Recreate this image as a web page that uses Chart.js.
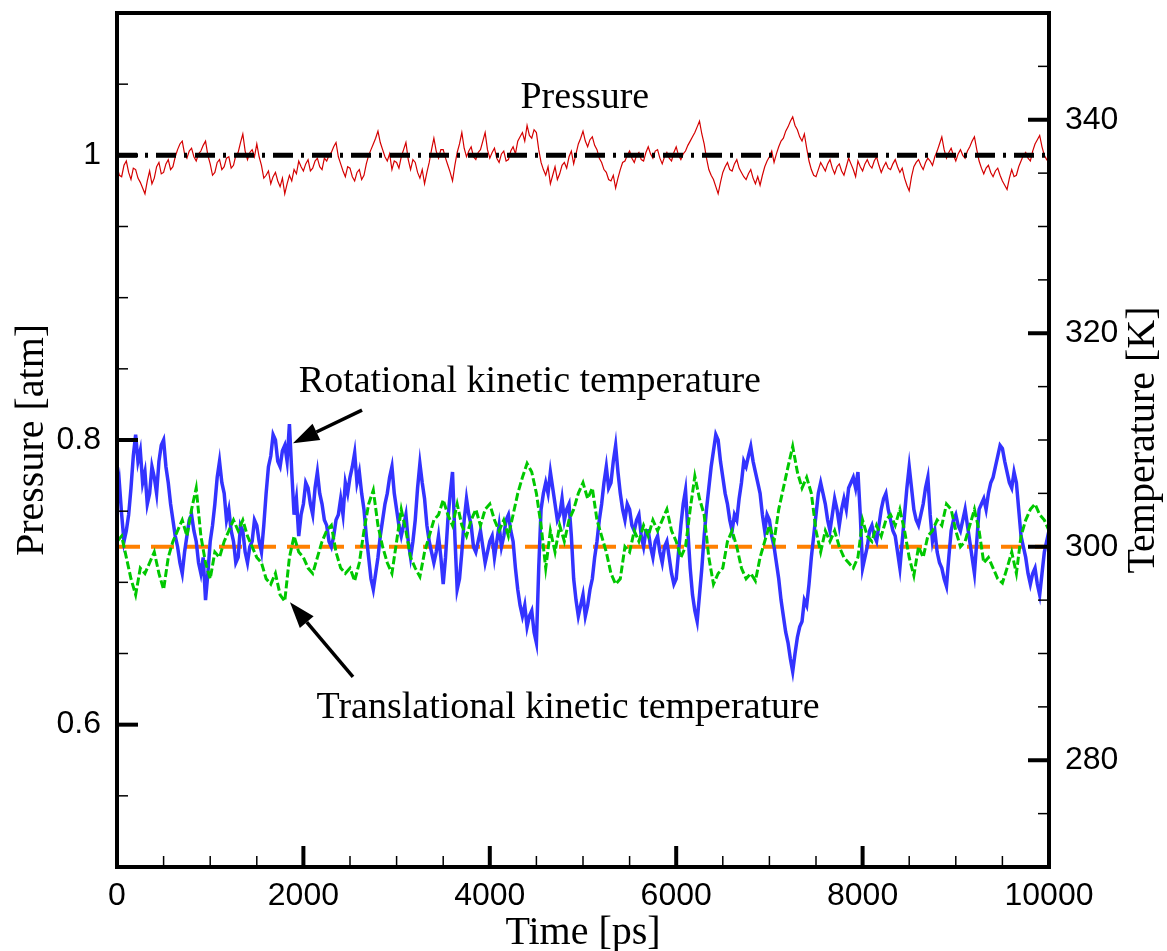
<!DOCTYPE html>
<html>
<head>
<meta charset="utf-8">
<title>Pressure and temperature vs time</title>
<script src="https://cdn.jsdelivr.net/npm/chart.js@4.4.0/dist/chart.umd.min.js"></script>
<style>
  html, body { margin: 0; padding: 0; background: #fff; }
  canvas { display: block; }
</style>
</head>
<body>
<canvas id="chart" width="1167" height="951"></canvas>
<script>
// sampling steps of the read-off series [ps]
const FINE_STEP = 25;
const COARSE_STEP = 50;

// Pressure [atm], read every 25 ps from 0 to 10000
const pressure = [
  0.992, 0.986, 0.985, 0.993, 0.996, 0.988, 0.983, 0.991, 0.990, 0.984, 0.981, 0.977, 0.973, 0.982, 0.989, 0.980, 0.984, 0.992, 0.995, 0.987,
  0.988, 0.994, 0.997, 0.990, 0.992, 0.999, 1.004, 1.008, 1.010, 1.001, 0.998, 1.003, 1.005, 0.999, 0.996, 1.001, 1.003, 1.007, 1.010, 1.000,
  0.994, 0.986, 0.988, 0.995, 0.997, 0.990, 0.992, 0.998, 0.999, 0.991, 0.993, 1.000, 1.002, 1.009, 1.015, 1.003, 0.997, 1.002, 1.004, 0.999,
  1.008, 0.999, 0.993, 0.984, 0.986, 0.989, 0.980, 0.985, 0.988, 0.982, 0.978, 0.984, 0.973, 0.980, 0.986, 0.982, 0.990, 0.987, 0.996, 0.992,
  0.989, 0.994, 0.997, 0.989, 0.991, 0.996, 0.998, 0.992, 0.990, 0.998, 0.996, 1.000, 1.002, 1.006, 1.009, 0.999, 0.994, 0.989, 0.985, 0.992,
  0.991, 0.985, 0.982, 0.988, 0.990, 0.983, 0.986, 0.994, 1.000, 1.004, 1.008, 1.012, 1.017, 1.009, 1.004, 0.999, 0.996, 1.001, 0.990, 0.996,
  0.995, 0.991, 0.999, 1.004, 1.009, 0.997, 0.990, 0.997, 0.995, 0.988, 0.984, 0.990, 0.980, 0.988, 0.995, 1.004, 1.012, 1.003, 0.998, 1.004,
  1.004, 0.998, 0.993, 0.988, 0.982, 0.993, 1.002, 1.008, 1.016, 1.005, 0.999, 1.003, 1.006, 0.999, 0.997, 1.002, 1.004, 1.010, 1.016, 1.004,
  0.998, 1.002, 1.005, 0.998, 0.995, 1.001, 1.003, 0.996, 0.997, 1.003, 1.006, 1.001, 1.010, 1.013, 1.016, 1.010, 1.021, 1.014, 1.012, 1.018,
  1.016, 1.004, 0.995, 0.990, 0.986, 0.992, 0.980, 0.986, 0.992, 0.983, 0.987, 0.993, 0.995, 0.991, 0.999, 1.003, 0.994, 1.001, 1.008, 1.012,
  1.017, 1.010, 1.006, 1.011, 1.013, 1.007, 1.004, 0.998, 0.995, 0.990, 0.988, 0.983, 0.982, 0.986, 0.977, 0.984, 0.990, 0.995, 0.996, 1.000,
  1.003, 0.998, 0.995, 1.000, 1.002, 0.997, 0.996, 1.002, 1.006, 1.001, 0.998, 1.003, 1.004, 0.998, 0.994, 0.999, 1.002, 0.998, 0.996, 1.002,
  1.006, 1.000, 0.997, 1.001, 1.003, 1.007, 1.010, 1.013, 1.016, 1.020, 1.024, 1.015, 1.008, 0.998, 0.990, 0.986, 0.983, 0.978, 0.973, 0.981,
  0.988, 0.992, 0.995, 0.990, 0.989, 0.994, 0.997, 0.991, 0.988, 0.985, 0.983, 0.987, 0.990, 0.984, 0.980, 0.985, 0.979, 0.986, 0.992, 0.996,
  0.999, 1.003, 0.995, 1.001, 1.006, 1.010, 1.012, 1.017, 1.020, 1.024, 1.027, 1.021, 1.018, 1.013, 1.010, 1.015, 1.005, 0.996, 0.990, 0.986,
  0.985, 0.990, 0.995, 0.992, 0.989, 0.994, 0.997, 0.991, 0.987, 0.992, 0.994, 0.989, 0.986, 0.992, 0.998, 0.994, 0.990, 0.985, 0.996, 0.992,
  0.989, 0.994, 0.997, 0.993, 0.991, 0.996, 0.999, 0.993, 0.988, 0.992, 0.995, 0.991, 0.990, 0.994, 0.997, 0.992, 0.988, 0.991, 0.984, 0.979,
  0.975, 0.985, 0.992, 0.995, 0.997, 0.993, 0.990, 0.995, 0.998, 0.996, 0.993, 0.999, 1.003, 1.008, 1.013, 1.004, 0.998, 1.002, 1.005, 1.000,
  0.996, 1.001, 1.004, 1.000, 0.998, 1.003, 1.006, 1.010, 1.013, 1.004, 0.996, 0.991, 0.987, 0.991, 0.993, 0.988, 0.985, 0.989, 0.991, 0.986,
  0.982, 0.979, 0.976, 0.984, 0.990, 0.985, 0.986, 0.992, 0.996, 1.000, 1.002, 0.998, 0.996, 1.003, 1.008, 1.011, 1.014, 1.006, 1.000, 0.997,
  0.995
];

// Rotational kinetic temperature [K], every 25 ps
const rotTemp = [
  304.5, 306.0, 303.0, 300.5, 301.5, 303.0, 305.5, 308.5, 310.5, 308.0, 309.0, 306.0, 307.0, 304.0, 305.0, 307.5, 306.5, 305.0, 308.0, 309.5,
  310.0, 307.5, 306.0, 304.0, 302.5, 301.0, 300.0, 298.5, 297.5, 299.5, 301.0, 302.5, 303.0, 301.5, 300.5, 298.5, 297.5, 299.0, 295.0, 297.5,
  300.5, 302.0, 304.0, 306.5, 308.0, 306.0, 305.0, 302.5, 303.5, 301.5, 300.5, 298.5, 299.0, 302.0, 301.5, 299.5, 298.5, 300.0, 300.5, 302.5,
  302.0, 300.5, 299.5, 302.0, 305.0, 307.5, 308.5, 310.5, 310.0, 308.0, 307.5, 309.0, 309.5, 308.0, 311.5, 307.0, 303.0, 304.5, 301.0, 303.0,
  304.0, 306.0, 305.5, 304.0, 303.0, 305.5, 307.0, 305.0, 304.0, 302.5, 302.0, 300.5, 300.0, 301.0, 302.5, 303.0, 304.5, 303.0, 306.0, 305.0,
  306.5, 307.5, 308.8, 306.0, 307.0, 305.0, 303.5, 301.0, 299.0, 297.0, 296.0, 297.5, 299.0, 301.0, 302.5, 304.0, 305.0, 306.5, 307.5, 305.0,
  303.5, 302.0, 301.0, 302.0, 303.0, 300.5, 299.0, 300.5, 302.5, 305.5, 307.8, 306.0, 304.5, 302.0, 300.5, 299.5, 298.5, 299.5, 301.0, 299.0,
  296.5, 299.0, 302.5, 305.0, 307.0, 301.0, 296.0, 297.0, 299.5, 302.5, 304.5, 303.0, 302.0, 300.0, 299.5, 300.5, 301.5, 300.0, 298.5, 299.5,
  300.5, 301.0, 299.0, 300.5, 302.0, 300.0, 301.0, 302.5, 303.0, 301.5, 300.5, 298.0, 296.0, 294.5, 293.5, 294.5, 292.5, 293.5, 294.0, 292.0,
  291.0, 298.0, 303.5, 305.0, 306.0, 305.0, 307.0, 305.5, 304.0, 302.5, 303.0, 304.5, 302.5, 303.5, 304.0, 301.0, 297.0, 295.0, 293.5, 294.5,
  295.5, 293.5, 294.5, 296.0, 297.0, 299.0, 300.5, 302.5, 304.0, 306.0, 307.5, 305.5, 306.0, 308.0, 309.5, 307.0, 305.0, 303.5, 302.5, 304.0,
  303.5, 302.0, 301.5, 302.5, 303.0, 301.0, 300.0, 301.5, 301.5, 300.0, 299.0, 300.5, 301.0, 299.5, 298.5, 300.0, 300.5, 299.0, 297.5, 296.5,
  297.0, 299.5, 302.0, 304.0, 305.3, 301.5, 298.0, 295.5, 294.0, 293.0, 295.5, 298.0, 301.0, 303.5, 305.5, 307.5, 309.0, 310.5, 310.0, 308.0,
  306.5, 305.0, 304.0, 302.5, 301.5, 303.0, 302.5, 304.5, 306.0, 308.0, 307.5, 308.5, 309.4, 308.0, 307.0, 306.0, 305.0, 303.0, 301.5, 303.0,
  302.5, 301.0, 300.0, 298.5, 297.0, 295.0, 293.5, 292.0, 291.0, 289.5, 288.3, 290.0, 291.5, 292.5, 293.0, 295.0, 294.5, 296.5, 299.0, 301.0,
  303.0, 305.0, 306.0, 305.0, 304.0, 302.5, 301.5, 303.0, 304.5, 303.5, 302.0, 303.5, 304.5, 303.5, 305.5, 306.0, 306.5, 305.5, 307.0, 303.0,
  298.0, 299.0, 300.0, 301.5, 302.0, 301.0, 300.5, 302.0, 303.5, 304.5, 305.0, 303.5, 302.5, 301.5, 301.0, 299.5, 298.0, 300.5, 303.0, 305.5,
  307.5, 305.5, 303.5, 302.5, 302.0, 303.0, 304.0, 305.5, 306.5, 303.0, 300.5, 301.5, 299.5, 298.5, 298.0, 297.0, 296.3, 299.0, 301.5, 302.5,
  303.0, 302.0, 301.5, 302.5, 303.5, 302.0, 300.5, 299.0, 297.5, 300.5, 303.5, 304.0, 304.5, 303.5, 305.0, 306.0, 306.5, 307.5, 308.5, 309.5,
  309.2, 308.0, 307.0, 306.0, 305.5, 307.0, 306.0, 303.5, 301.0, 300.0, 299.0, 297.5, 296.5, 297.5, 298.0, 296.5, 295.5, 297.5, 299.5, 300.5,
  301.5
];

// Translational kinetic temperature [K], every 50 ps
const transTemp = [
  300.5, 301.0, 299.0, 297.0, 295.5, 298.0, 297.5, 298.5, 299.5, 297.5,
  296.0, 299.0, 300.5, 301.5, 302.5, 301.0, 303.5, 305.5, 301.0, 298.5,
  297.0, 299.5, 299.0, 300.5, 301.5, 302.5, 301.5, 302.5, 301.0, 300.0,
  299.0, 298.5, 297.0, 296.5, 297.5, 295.5, 294.9, 299.0, 301.0, 299.5,
  299.0, 298.0, 297.5, 299.0, 300.5, 301.5, 302.0, 299.5, 298.0, 297.5,
  298.0, 296.8, 298.5, 301.5, 304.0, 305.3, 302.0, 300.0, 298.5, 297.5,
  300.5, 303.5, 301.5, 299.0, 298.0, 297.2, 299.5, 301.0, 302.5, 303.0,
  304.4, 303.0, 302.0, 304.0, 302.0, 301.0, 302.5, 303.5, 302.0, 303.5,
  304.0, 302.5, 301.5, 302.5, 301.0, 303.0, 305.0, 306.5, 307.8, 307.0,
  305.0, 302.0, 298.0, 301.5, 299.5, 302.0, 300.5, 302.5, 303.5, 305.0,
  306.0, 304.5, 305.5, 302.5, 301.0, 299.5, 297.5, 296.5, 297.0, 300.0,
  299.5, 301.5, 300.5, 302.0, 301.0, 302.5, 301.5, 302.5, 303.5, 301.5,
  300.5, 299.0, 300.0, 303.5, 306.6, 304.5, 303.0, 299.0, 296.5, 297.5,
  298.0, 300.5, 301.5, 300.0, 298.0, 297.0, 297.5, 296.8, 299.0, 300.5,
  302.0, 300.5, 303.5, 305.5, 307.5, 309.4, 307.0, 305.5, 306.5, 305.0,
  301.5, 299.5, 301.5, 300.5, 301.5, 300.0, 299.0, 298.5, 298.0, 299.0,
  302.5, 301.0, 300.5, 302.0, 301.0, 302.5, 303.0, 302.0, 303.5, 301.5,
  299.0, 297.3, 300.0, 299.0, 301.0, 301.5, 302.5, 302.0, 304.0, 303.5,
  301.5, 300.0, 300.5, 302.0, 303.5, 301.5, 298.5, 299.0, 298.0, 297.0,
  296.6, 298.0, 299.5, 297.5, 301.0, 302.5, 303.5, 304.0, 303.0, 302.5,
  301.5
];

// reference levels
const pressureRef = 1.0;
const tempRef = 300;
const timeRange = [0, 10000];

// axis ticks
const timeTicks = [0, 500, 1000, 1500, 2000, 2500, 3000, 3500, 4000, 4500, 5000,
                   5500, 6000, 6500, 7000, 7500, 8000, 8500, 9000, 9500, 10000];
const timeMajor = [0, 2000, 4000, 6000, 8000, 10000];
const pressureTicks = [0.5, 0.55, 0.6, 0.65, 0.7, 0.75, 0.8, 0.85, 0.9, 0.95, 1.0, 1.05, 1.1];
const pressureMajor = [0.6, 0.8, 1.0];
const pressureLabels = ['0.6', '0.8', '1'];
const tempTicks = [270, 275, 280, 285, 290, 295, 300, 305, 310, 315, 320, 325, 330, 335, 340, 345, 350];
const tempMajor = [280, 300, 320, 340];

const toPoints = (vals, step) => vals.map((v, i) => ({ x: i * step, y: v }));
const isMajor = (list, v) => list.some(m => Math.abs(m - v) < 1e-9);

const tickFont = { family: "'Liberation Sans', Arial, sans-serif", size: 32 };
const serif = "'Liberation Serif', 'Times New Roman', serif";

// frame, inward ticks, titles and annotations
const framePlugin = {
  id: 'frame',
  afterDraw(chart) {
    const { ctx, chartArea: a, scales } = chart;
    const x = scales.x, yP = scales.yP, yT = scales.yT;
    ctx.save();
    ctx.strokeStyle = '#000';
    ctx.lineCap = 'butt';

    // bottom ticks
    timeTicks.forEach(v => {
      const px = x.getPixelForValue(v);
      const major = isMajor(timeMajor, v);
      ctx.lineWidth = major ? 4 : 1.5;
      ctx.beginPath();
      ctx.moveTo(px, a.bottom);
      ctx.lineTo(px, a.bottom - (major ? 21 : 11));
      ctx.stroke();
    });
    // left ticks
    pressureTicks.forEach(v => {
      const py = yP.getPixelForValue(v);
      const major = isMajor(pressureMajor, v);
      ctx.lineWidth = major ? 4 : 1.5;
      ctx.beginPath();
      ctx.moveTo(a.left, py);
      ctx.lineTo(a.left + (major ? 21 : 11), py);
      ctx.stroke();
    });
    // right ticks
    tempTicks.forEach(v => {
      const py = yT.getPixelForValue(v);
      const major = isMajor(tempMajor, v);
      ctx.lineWidth = major ? 4 : 1.5;
      ctx.beginPath();
      ctx.moveTo(a.right, py);
      ctx.lineTo(a.right - (major ? 21 : 11), py);
      ctx.stroke();
    });

    // frame
    ctx.lineWidth = 4;
    ctx.strokeRect(a.left, a.top, a.right - a.left, a.bottom - a.top);

    // axis titles
    ctx.fillStyle = '#000';
    ctx.font = '40px ' + serif;
    ctx.textAlign = 'center';
    ctx.textBaseline = 'alphabetic';
    ctx.fillText('Time [ps]', (a.left + a.right) / 2, 944);

    ctx.save();
    ctx.translate(43, (a.top + a.bottom) / 2);
    ctx.rotate(-Math.PI / 2);
    ctx.fillText('Pressure [atm]', 0, 0);
    ctx.restore();

    ctx.save();
    ctx.translate(1154, (a.top + a.bottom) / 2);
    ctx.rotate(-Math.PI / 2);
    ctx.fillText('Temperature [K]', 0, 0);
    ctx.restore();

    // annotations
    ctx.font = '38px ' + serif;
    ctx.fillText('Pressure', x.getPixelForValue(5020), yP.getPixelForValue(1.033));
    ctx.fillText('Rotational kinetic temperature', x.getPixelForValue(4430), yT.getPixelForValue(314.5));
    ctx.fillText('Translational kinetic temperature', x.getPixelForValue(4840), yT.getPixelForValue(284.0));

    drawArrow(ctx, x.getPixelForValue(2629), yT.getPixelForValue(312.8),
                   x.getPixelForValue(1888), yT.getPixelForValue(309.7));
    drawArrow(ctx, x.getPixelForValue(2532), yT.getPixelForValue(287.8),
                   x.getPixelForValue(1856), yT.getPixelForValue(294.8));
    ctx.restore();
  }
};

function drawArrow(ctx, x0, y0, x1, y1) {
  const ang = Math.atan2(y1 - y0, x1 - x0);
  const len = 26, half = 9;
  const bx = x1 - len * Math.cos(ang), by = y1 - len * Math.sin(ang);
  ctx.lineWidth = 3.5;
  ctx.strokeStyle = '#000';
  ctx.beginPath();
  ctx.moveTo(x0, y0);
  ctx.lineTo(bx, by);
  ctx.stroke();
  ctx.beginPath();
  ctx.moveTo(x1, y1);
  ctx.lineTo(bx + half * Math.sin(ang), by - half * Math.cos(ang));
  ctx.lineTo(bx - half * Math.sin(ang), by + half * Math.cos(ang));
  ctx.closePath();
  ctx.fill();
}

// drop the half-label padding so the plot box sits where the reference has it
function noPad(s) {
  s.paddingTop = 0; s.paddingBottom = 0; s.paddingLeft = 0; s.paddingRight = 0;
}

new Chart(document.getElementById('chart'), {
  type: 'line',
  data: {
    datasets: [
      {
        label: 'Pressure reference',
        data: timeRange.map(t => ({ x: t, y: pressureRef })),
        yAxisID: 'yP',
        borderColor: '#000',
        borderWidth: 5,
        borderDash: [20, 8, 3, 8],
        order: 0
      },
      {
        label: 'Pressure',
        data: toPoints(pressure, FINE_STEP),
        yAxisID: 'yP',
        borderColor: '#d40000',
        borderWidth: 1.2,
        order: 1
      },
      {
        label: 'Translational kinetic temperature',
        data: toPoints(transTemp, COARSE_STEP),
        yAxisID: 'yT',
        borderColor: '#00c800',
        borderWidth: 3,
        borderDash: [8, 3],
        order: 2
      },
      {
        label: 'Rotational kinetic temperature',
        data: toPoints(rotTemp, FINE_STEP),
        yAxisID: 'yT',
        borderColor: '#3333ff',
        borderWidth: 3.5,
        order: 3
      },
      {
        label: 'Temperature reference',
        data: timeRange.map(t => ({ x: t, y: tempRef })),
        yAxisID: 'yT',
        borderColor: '#ff8000',
        borderWidth: 4,
        borderDash: [23, 11],
        order: 4
      }
    ]
  },
  options: {
    responsive: false,
    animation: false,
    elements: { point: { radius: 0 }, line: { tension: 0 } },
    layout: { padding: { top: 13, left: 0, right: 0, bottom: 0 } },
    plugins: { legend: { display: false }, tooltip: { enabled: false } },
    scales: {
      x: {
        type: 'linear',
        min: 0,
        max: 10000,
        afterBuildTicks: s => { s.ticks = timeMajor.map(v => ({ value: v })); },
        afterFit: s => { s.height = 84; noPad(s); },
        grid: { display: false, drawTicks: false },
        border: { display: false },
        ticks: {
          autoSkip: false,
          maxRotation: 0,
          padding: 10,
          color: '#000',
          font: tickFont,
          callback: v => String(v)
        }
      },
      yP: {
        type: 'linear',
        position: 'left',
        min: 0.5,
        max: 1.1,
        afterBuildTicks: s => { s.ticks = pressureMajor.map(v => ({ value: v })); },
        afterFit: s => { s.width = 117; noPad(s); },
        grid: { display: false, drawTicks: false },
        border: { display: false },
        ticks: {
          autoSkip: false,
          padding: 16,
          color: '#000',
          font: tickFont,
          callback: v => {
            const i = pressureMajor.findIndex(m => Math.abs(m - v) < 1e-9);
            return i >= 0 ? pressureLabels[i] : '';
          }
        }
      },
      yT: {
        type: 'linear',
        position: 'right',
        min: 270,
        max: 350,
        afterBuildTicks: s => { s.ticks = tempMajor.map(v => ({ value: v })); },
        afterFit: s => { s.width = 118; noPad(s); },
        grid: { display: false, drawTicks: false },
        border: { display: false },
        ticks: {
          autoSkip: false,
          padding: 16,
          color: '#000',
          font: tickFont,
          callback: v => String(v)
        }
      }
    }
  },
  plugins: [framePlugin]
});
</script>
</body>
</html>
